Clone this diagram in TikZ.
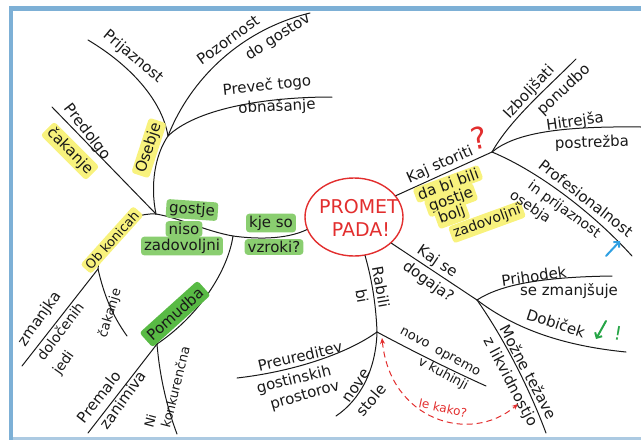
\documentclass[tikz,border=0pt]{standalone}
\usepackage{fontspec}
\setmainfont{DejaVu Sans}
\usetikzlibrary{shapes.geometric,arrows.meta}
\definecolor{framebl}{RGB}{125,176,214}
\definecolor{framelt}{RGB}{172,202,226}
\definecolor{pen}{RGB}{25,25,25}
\definecolor{redpen}{RGB}{226,46,46}
\definecolor{hly}{RGB}{248,242,125}
\definecolor{hlg}{RGB}{138,206,112}
\definecolor{hlgd}{RGB}{88,186,68}
\definecolor{bluepen}{RGB}{48,160,226}
\definecolor{greenpen}{RGB}{38,165,70}
\begin{document}
\begin{tikzpicture}[x=1pt,y=-1pt,
  lbl/.style={font=\fontsize{15}{16}\selectfont, text=pen, inner sep=1pt},
  lbls/.style={lbl, font=\fontsize{13}{14}\selectfont},
  lblm/.style={lbl, font=\fontsize{14}{15}\selectfont},
  yel/.style={fill=hly, rounded corners=3pt, inner xsep=3pt, inner ysep=2pt},
  grn/.style={fill=hlg, rounded corners=3pt, inner xsep=3pt, inner ysep=2pt},
  grnd/.style={fill=hlgd, rounded corners=3pt, inner xsep=4pt, inner ysep=4pt},
  redlbl/.style={font=\fontsize{19}{20}\selectfont, text=redpen, inner sep=0pt},
  branch/.style={draw=pen, line width=1pt, line cap=round},
  penarrow/.style={line width=2pt, line cap=round, -{Straight Barb[length=4pt,width=8pt]}}
]
\useasboundingbox (0,0) rectangle (641,440);
% frame
\fill[framebl] (9,6) rectangle (641,11);
\fill[framebl] (9,6) rectangle (13,440);
\fill[framelt] (13,437) rectangle (641,439.5);

% centre
\node[draw=redpen, line width=1.4pt, ellipse, minimum width=98pt, minimum height=78pt, inner sep=0pt] (promet) at (354,217) {};
\node[redlbl] (tPromet) at (359,207) {PROMET};
\node[redlbl] (tPada) at (361,230) {PADA!};

% junctions and free ends
\coordinate (J1) at (156,214);
\coordinate (J2) at (168,136);
\coordinate (J3) at (98,269);
\coordinate (Jp) at (233,236);
\coordinate (J7) at (157,344);
\coordinate (J4) at (492,152);
\coordinate (J5) at (477,300);
\coordinate (J6) at (377,332);
\coordinate (Eprij) at (88,40);
\coordinate (Epoz) at (310,13);
\coordinate (Eprev) at (332,97);
\coordinate (Epred) at (52,107);
\coordinate (Ezman) at (22,366);
\coordinate (Ecak) at (127,336);
\coordinate (Eprem) at (88,433);
\coordinate (Eni) at (177,434);
\coordinate (Eizb) at (576,59);
\coordinate (Ehit) at (641,127);
\coordinate (Eprof) at (632,256);
\coordinate (Eprih) at (612,276);
\coordinate (Edob) at (626,352);
\coordinate (Emoz) at (546,433);
\coordinate (Epreu) at (237,378);
\coordinate (Enove) at (336,416);
\coordinate (Enovo) at (486,386);

% left side
\draw[branch] (promet.195) .. controls (285,240) and (255,239) .. (Jp);
\draw[branch] (Jp) .. controls (205,231) and (180,218) .. (J1);
\draw[branch] (Jp) .. controls (228,270) and (200,315) .. (J7);
\draw[branch] (J1) .. controls (150,185) and (155,155) .. (J2);
\draw[branch] (J2) .. controls (162,100) and (130,65) .. (Eprij);
\draw[branch] (J2) .. controls (190,80) and (240,30) .. (Epoz);
\draw[branch] (J2) .. controls (195,110) and (260,97) .. (Eprev);
\draw[branch] (J1) -- (Epred);
\draw[branch] (J1) .. controls (125,212) and (100,240) .. (J3);
\draw[branch] (J3) -- (Ezman);
\draw[branch] (J3) .. controls (104,295) and (112,315) .. (Ecak);
\draw[branch] (J7) -- (Eprem);
\draw[branch] (J7) .. controls (160,380) and (168,410) .. (Eni);

% right side
\draw[branch] (promet.27) -- (J4);
\draw[branch] (J4) .. controls (510,120) and (545,90) .. (Eizb);
\draw[branch] (J4) .. controls (515,133) and (560,126) .. (Ehit);
\draw[branch] (J4) .. controls (540,172) and (595,215) .. (Eprof);
\draw[branch] (promet.-35) -- (J5);
\draw[branch] (J5) .. controls (500,285) and (540,277) .. (Eprih);
\draw[branch] (J5) .. controls (510,325) and (555,345) .. (Edob);
\draw[branch] (J5) .. controls (505,340) and (530,390) .. (Emoz);
\draw[branch] (promet.-74) .. controls (372,280) and (376,305) .. (J6);
\draw[branch] (J6) .. controls (345,355) and (290,372) .. (Epreu);
\draw[branch] (J6) .. controls (376,370) and (360,400) .. (Enove);
\draw[branch] (J6) .. controls (420,355) and (455,372) .. (Enovo);

% labels, left
\node[lbl, rotate=-40] (tPrij) at (133,57) {Prijaznost};
\node[lbl, rotate=36] (tPoz) at (228,40) {Pozornost};
\node[lbl, rotate=33] (tDoG) at (278,37) {do gostov};
\node[lbl, rotate=6] (tPrev) at (267,86) {Preveč togo};
\node[lbl, rotate=3] (tObn) at (277,107) {obnašanje};
\node[lbl, rotate=-52] (tPred) at (87,132) {Predolgo};
\node[lbl, yel, rotate=-45] (tCak) at (70,151) {čakanje};
\node[lbl, yel, rotate=72] (tOse) at (149,148) {Osebje};
\node[lbls, yel, rotate=48] (tObK) at (112,240) {Ob konicah};
\node[lbl, grn, rotate=-4] (tGos) at (192,210) {gostje};
\node[lbl, grn] (tNis) at (184,229) {niso};
\node[lbl, grn] (tZad) at (182,246) {zadovoljni};
\node[lbl, grn] (tKje) at (271,223) {kje so};
\node[lbl, grn] (tVzr) at (274,247) {vzroki?};
\node[lbl, rotate=55] (tZma) at (40,319) {zmanjka};
\node[lblm, rotate=53] (tDol) at (60,331) {določenih};
\node[lblm, rotate=55] (tJed) at (64,363) {jedi};
\node[lbls, rotate=73] (tCak2) at (110,313) {čakanje};
\node[lbl, grnd, rotate=42] (tPom) at (175,314) {Pomudba};
\node[lbl, rotate=52] (tPrem) at (99,397) {Premalo};
\node[lbl, rotate=54] (tZan) at (123,400) {zanimiva};
\node[lbls, rotate=75] (tNi) at (150,421) {Ni};
\node[lbls, rotate=76] (tKon) at (175,387) {konkurenčna};

% labels, right
\node[lbl, rotate=24] (tKaj) at (440,165) {Kaj storiti};
\node[font=\fontsize{30}{30}\selectfont, text=redpen, inner sep=0pt, rotate=12] (tQ) at (479,138) {?};
\node[lbl, yel, rotate=20] (tDaB) at (448,184) {da bi bili};
\node[lbl, yel, rotate=20] (tGos2) at (451,200) {gostje};
\node[lbl, yel, rotate=20] (tBol) at (452,215) {bolj};
\node[lblm, yel, rotate=20] (tZad2) at (487,222) {zadovoljni};
\node[lbl, rotate=47] (tIzb) at (529,92) {Izboljšati};
\node[lbl, rotate=43] (tPon) at (564,90) {ponudbo};
\node[lbl, rotate=8] (tHit) at (575,122) {Hitrejša};
\node[lbl, rotate=2] (tPost) at (592,143) {postrežba};
\node[lbl, rotate=-38] (tProf) at (586,198) {Profesionalnost};
\node[lblm, rotate=-36] (tInP) at (564,210) {in prijaznost};
\node[lblm, rotate=-34] (tOseb) at (530,207) {osebja};
\node[lbl, rotate=-34] (tKajSe) at (437,262) {Kaj se};
\node[lbl, rotate=-36] (tDog) at (428,282) {dogaja?};
\node[lbl, rotate=8] (tPrih) at (534,276) {Prihodek};
\node[lbl] (tSeZ) at (569,291) {se zmanjšuje};
\node[lbl, rotate=-18] (tDob) at (556,323) {Dobiček};
\node[lbl, rotate=-62] (tMoz) at (529,372) {Možne težave};
\node[lbl, rotate=-62] (tLik) at (510,382) {z likvidnostjo};
\node[lbl, rotate=-80] (tRab) at (381,287) {Rabili};
\node[lbl, rotate=-80] (tBi) at (362,296) {bi};
\node[lbl, rotate=13] (tPreu) at (300,356) {Preureditev};
\node[lbl, rotate=14] (tGost) at (294,380) {gostinskih};
\node[lbl, rotate=16] (tPros) at (305,396) {prostorov};
\node[lbl, rotate=55] (tNove) at (357,386) {nove};
\node[lbl, rotate=50] (tStol) at (371,400) {stole};
\node[lbls, rotate=-28] (tNovo) at (415,338) {novo};
\node[lbls, rotate=-28] (tOpr) at (457,362) {opremo};
\node[lbls, rotate=-28] (tKuh) at (443,374) {v kuhinji};
\node[font=\fontsize{12}{13}\selectfont, text=redpen, inner sep=0pt, rotate=-12] (tLe) at (443,408) {le kako?};

% coloured marks
\coordinate (bA) at (606,256);
\coordinate (bB) at (620,241);
\draw[penarrow, draw=bluepen] (bA) -- (bB);
\coordinate (gA) at (606,321);
\coordinate (gB) at (596,339);
\draw[penarrow, draw=greenpen] (gA) -- (gB);
\node[font=\fontsize{19}{20}\selectfont, text=greenpen, inner sep=0pt, rotate=-10] (tExc) at (618,333) {!};

% dashed double arrow
\coordinate (dA) at (382,338);
\coordinate (dB) at (518,404);
\draw[redpen, line width=1pt, dash pattern=on 6pt off 4pt, {Stealth[length=6pt,width=5pt]}-{Stealth[length=6pt,width=5pt]}] (dA) .. controls (390,420) and (470,445) .. (dB);
\end{tikzpicture}
\end{document}
